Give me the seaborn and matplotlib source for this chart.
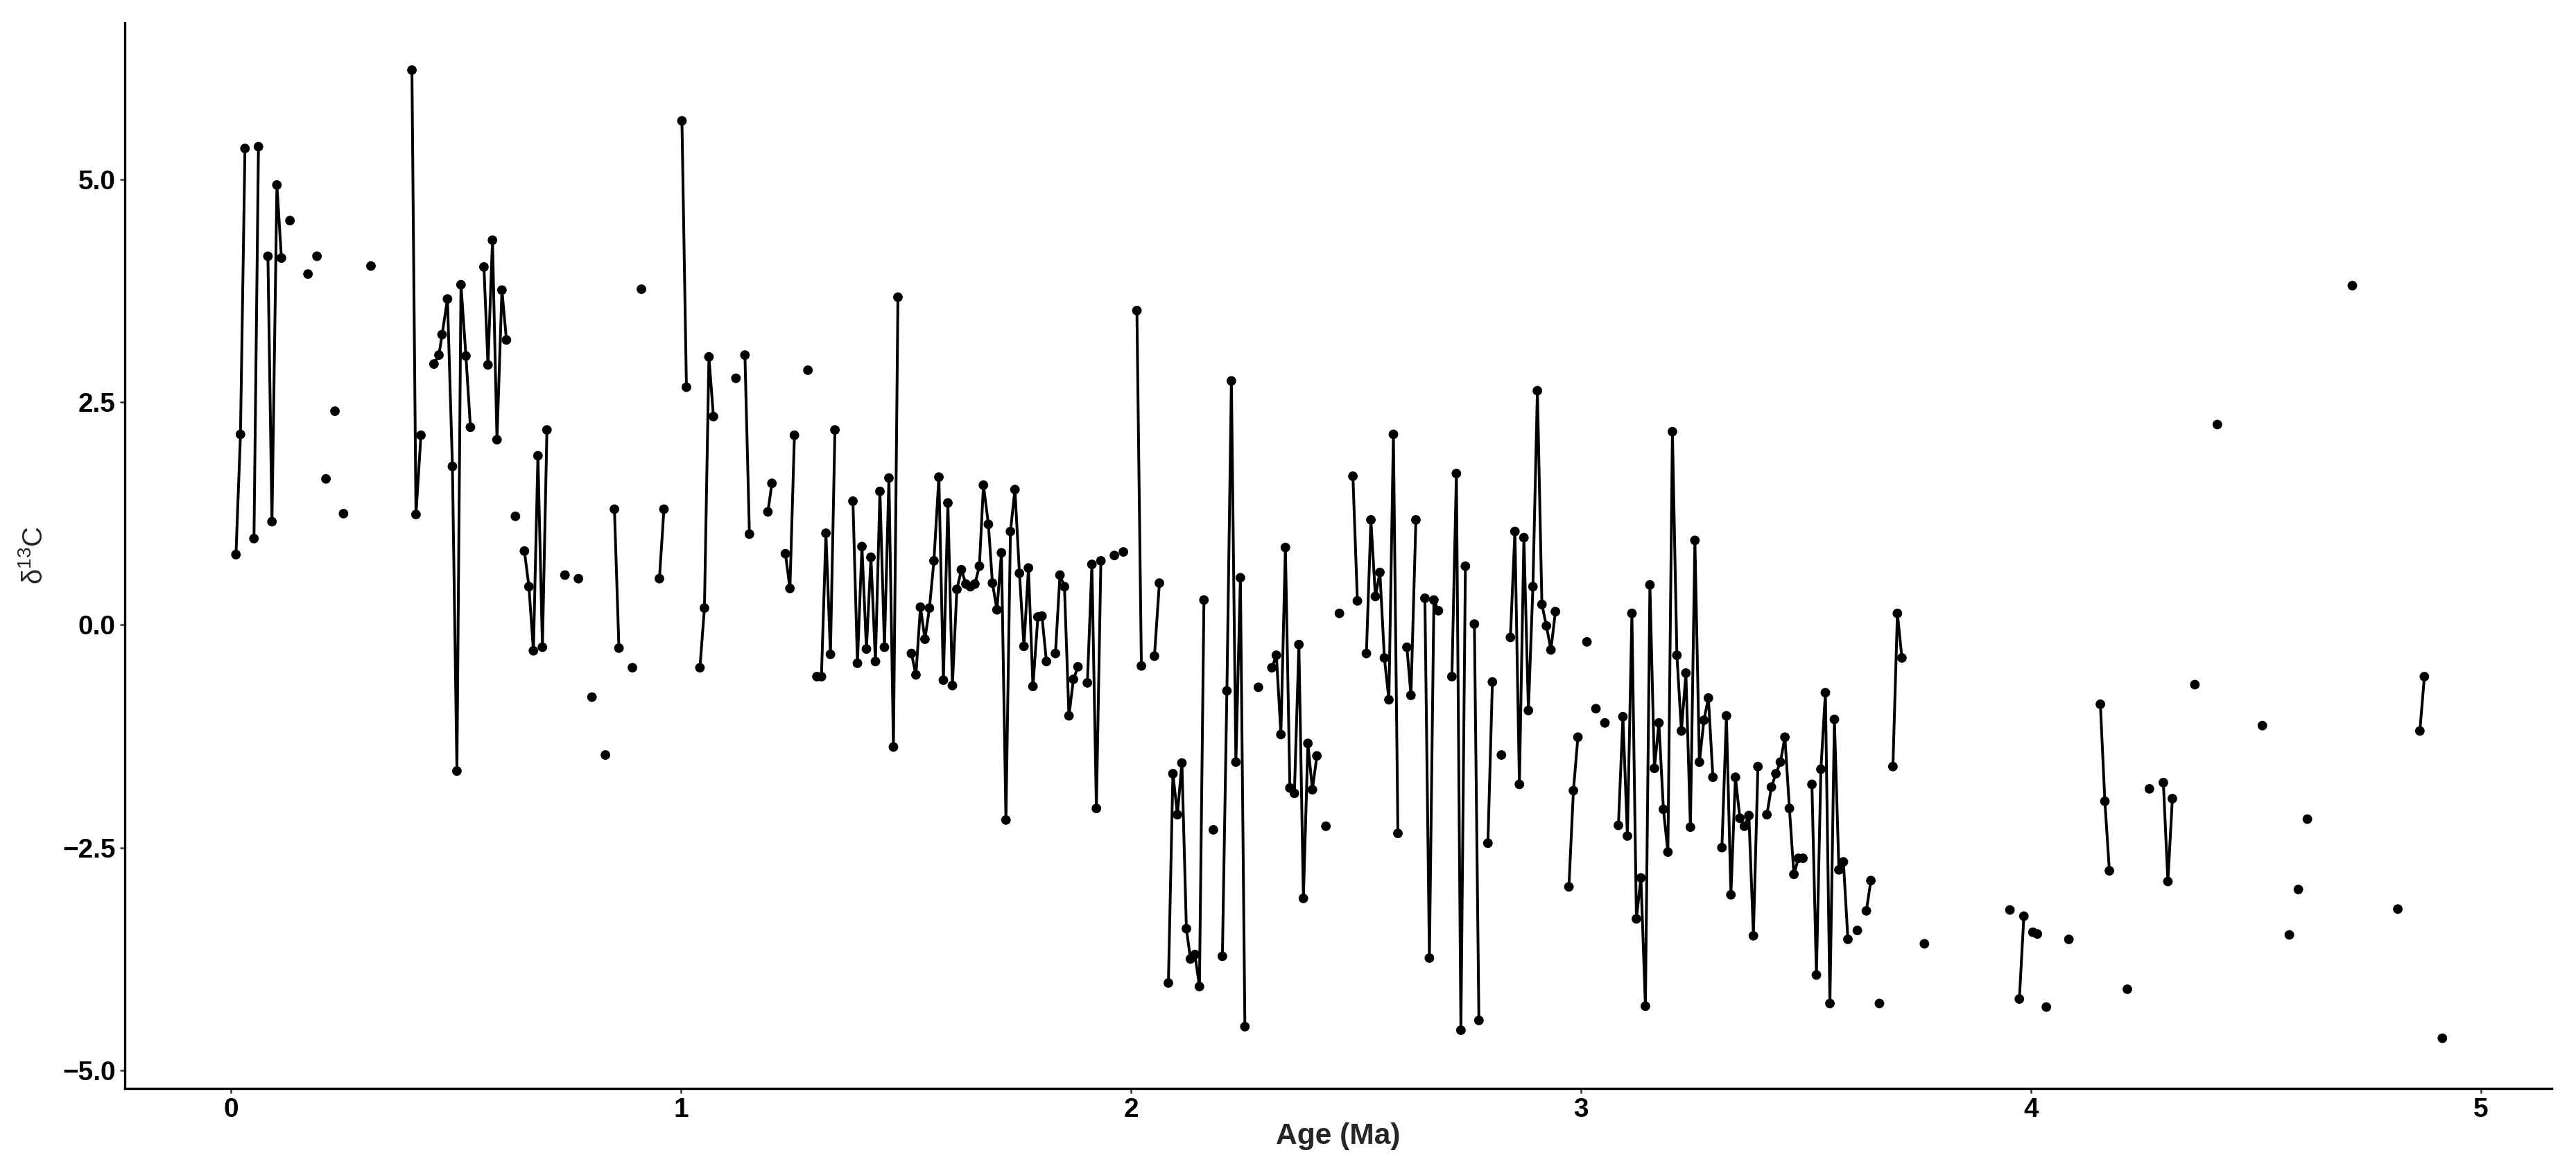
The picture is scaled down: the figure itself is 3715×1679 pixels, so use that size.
import numpy as np
import pandas as pd
import matplotlib
matplotlib.use("Agg")
import matplotlib.pyplot as plt
import seaborn as sns

# age (Ma) and d13C; run_len = points per connected run
age = [
    0.011, 0.021, 0.031, 0.051, 0.061, 0.082, 0.091, 0.102, 0.112, 0.131,
    0.171, 0.191, 0.211, 0.231, 0.250, 0.311, 0.402, 0.411, 0.422,
    0.451, 0.462, 0.469, 0.481, 0.492, 0.502, 0.511, 0.522, 0.532,
    0.562, 0.571, 0.581, 0.591, 0.602, 0.612, 0.632,
    0.652, 0.662, 0.672, 0.682, 0.692, 0.702,
    0.742, 0.772, 0.802, 0.832, 0.852, 0.862, 0.892, 0.912, 0.952, 0.962,
    1.002, 1.012, 1.042, 1.052, 1.062, 1.072, 1.122, 1.142, 1.152,
    1.193, 1.202, 1.232, 1.242, 1.252, 1.282,
    1.302, 1.312, 1.322, 1.332, 1.342,
    1.382, 1.392, 1.402, 1.412, 1.422, 1.432, 1.442, 1.452, 1.462, 1.472, 1.482,
    1.512, 1.522, 1.532, 1.542, 1.552, 1.562, 1.573, 1.583, 1.593, 1.603,
    1.613, 1.623, 1.633, 1.643, 1.653, 1.663, 1.672, 1.683, 1.692, 1.702,
    1.712, 1.722, 1.732, 1.742, 1.752, 1.762, 1.772, 1.782, 1.793, 1.802, 1.812,
    1.832, 1.842, 1.852, 1.862, 1.872, 1.882,
    1.903, 1.913, 1.923, 1.933, 1.963, 1.983,
    2.013, 2.023, 2.052, 2.063,
    2.083, 2.093, 2.103, 2.113, 2.123, 2.132, 2.142, 2.152, 2.162, 2.183,
    2.203, 2.213, 2.223, 2.233, 2.243, 2.253, 2.283,
    2.313, 2.323, 2.333, 2.343, 2.353, 2.363, 2.373, 2.383, 2.393, 2.403, 2.413,
    2.433, 2.463, 2.493, 2.503,
    2.523, 2.533, 2.543, 2.553, 2.563, 2.573, 2.583, 2.593,
    2.613, 2.622, 2.633, 2.653, 2.663, 2.673, 2.683,
    2.713, 2.723, 2.733, 2.743, 2.763, 2.773, 2.793, 2.803, 2.823,
    2.843, 2.853, 2.863, 2.873, 2.883, 2.893, 2.903, 2.913, 2.923, 2.933, 2.943,
    2.973, 2.983, 2.993, 3.013, 3.033, 3.053,
    3.083, 3.093, 3.103, 3.113, 3.123, 3.133, 3.143, 3.153, 3.163, 3.173,
    3.183, 3.193, 3.203, 3.213, 3.223, 3.233, 3.243, 3.253, 3.263, 3.273,
    3.283, 3.293,
    3.313, 3.323, 3.333, 3.343, 3.353, 3.363, 3.373, 3.383, 3.393,
    3.413, 3.423, 3.433, 3.443, 3.453, 3.463, 3.473, 3.483, 3.493,
    3.513, 3.523, 3.533, 3.543, 3.553, 3.563, 3.573, 3.583, 3.593,
    3.614, 3.634, 3.644, 3.663, 3.693, 3.703, 3.713, 3.763,
    3.953, 3.974, 3.984, 4.004, 4.014, 4.034, 4.084,
    4.154, 4.164, 4.174, 4.214, 4.263, 4.294, 4.304, 4.314,
    4.364, 4.414, 4.514, 4.574, 4.594, 4.614, 4.714, 4.815,
    4.864, 4.874, 4.914,
]

d13c = [
    0.79, 2.14, 5.35, 0.97, 5.37, 4.14, 1.16, 4.94, 4.12, 4.54,
    3.94, 4.14, 1.64, 2.40, 1.25, 4.03, 6.23, 1.24, 2.13,
    2.93, 3.03, 3.26, 3.66, 1.78, -1.64, 3.82, 3.02, 2.22,
    4.02, 2.92, 4.32, 2.08, 3.76, 3.20, 1.22,
    0.83, 0.43, -0.29, 1.90, -0.25, 2.19,
    0.56, 0.52, -0.81, -1.46, 1.30, -0.26, -0.48, 3.77, 0.52, 1.30,
    5.66, 2.67, -0.48, 0.19, 3.01, 2.34, 2.77, 3.03, 1.02,
    1.27, 1.59, 0.80, 0.41, 2.13, 2.86,
    -0.58, -0.58, 1.03, -0.33, 2.19,
    1.39, -0.43, 0.88, -0.27, 0.76, -0.41, 1.50, -0.25, 1.65, -1.37, 3.68,
    -0.32, -0.56, 0.20, -0.16, 0.19, 0.72, 1.66, -0.62, 1.37, -0.68,
    0.40, 0.62, 0.46, 0.43, 0.46, 0.66, 1.57, 1.13, 0.47, 0.17,
    0.81, -2.19, 1.05, 1.52, 0.58, -0.24, 0.64, -0.69, 0.09, 0.10, -0.41,
    -0.32, 0.56, 0.43, -1.02, -0.61, -0.47,
    -0.65, 0.68, -2.06, 0.72, 0.78, 0.82,
    3.53, -0.46, -0.35, 0.47,
    -4.02, -1.67, -2.13, -1.55, -3.41, -3.75, -3.70, -4.06, 0.28, -2.30,
    -3.72, -0.74, 2.74, -1.54, 0.53, -4.51, -0.70,
    -0.48, -0.34, -1.23, 0.87, -1.83, -1.89, -0.22, -3.07, -1.33, -1.85, -1.47,
    -2.26, 0.13, 1.67, 0.27,
    -0.32, 1.18, 0.32, 0.59, -0.37, -0.84, 2.14, -2.34,
    -0.25, -0.79, 1.18, 0.30, -3.74, 0.28, 0.16,
    -0.58, 1.70, -4.55, 0.66, 0.01, -4.44, -2.45, -0.64, -1.46,
    -0.14, 1.05, -1.79, 0.98, -0.96, 0.43, 2.63, 0.23, -0.01, -0.28, 0.15,
    -2.94, -1.86, -1.26, -0.19, -0.94, -1.10,
    -2.25, -1.03, -2.37, 0.13, -3.30, -2.84, -4.28, 0.45, -1.61, -1.10,
    -2.07, -2.55, 2.17, -0.34, -1.19, -0.54, -2.27, 0.95, -1.54, -1.07,
    -0.82, -1.71,
    -2.50, -1.02, -3.03, -1.71, -2.17, -2.26, -2.14, -3.49, -1.59,
    -2.13, -1.82, -1.67, -1.54, -1.26, -2.06, -2.80, -2.62, -2.62,
    -1.79, -3.93, -1.62, -0.76, -4.25, -1.06, -2.75, -2.66, -3.53,
    -3.43, -3.21, -2.87, -4.25, -1.59, 0.13, -0.37, -3.58,
    -3.20, -4.20, -3.27, -3.45, -3.47, -4.29, -3.53,
    -0.89, -1.98, -2.76, -4.09, -1.84, -1.77, -2.88, -1.95,
    -0.67, 2.25, -1.13, -3.48, -2.97, -2.18, 3.81, -3.19,
    -1.19, -0.58, -4.64,
]

run_len = [
    3, 2, 4, 1, 1, 1, 1, 1, 1, 1, 3, 9, 6, 1, 6, 1, 1, 1, 1, 2,
    1, 1, 2, 2, 4, 1, 2, 2, 3, 1, 5, 11, 31, 6, 4, 1, 1, 2, 2, 9,
    1, 6, 1, 11, 1, 1, 2, 8, 3, 4, 4, 2, 2, 1, 11, 3, 1, 1, 1, 22,
    9, 9, 9, 1, 2, 1, 3, 1, 1, 2, 2, 1, 1, 3, 1, 1, 3, 1, 1, 1,
    1, 1, 1, 1, 1, 2, 1,
]

x_ticks = [0, 1, 2, 3, 4, 5]
y_ticks = [-5.0, -2.5, 0.0, 2.5, 5.0]
y_tick_labels = ["\u22125.0", "\u22122.5", "0.0", "2.5", "5.0"]

df = pd.DataFrame({"age": age, "d13c": d13c})
df["run"] = np.repeat(np.arange(len(run_len)), run_len)

sns.set_theme(style="ticks")
plt.rcParams["font.family"] = ["Liberation Sans", "DejaVu Sans"]
plt.rcParams["mathtext.fontset"] = "custom"
plt.rcParams["mathtext.rm"] = "Liberation Sans"

W, H, DPI = 3715, 1679, 300
fig = plt.figure(figsize=(W / DPI, H / DPI), dpi=DPI)
ax = fig.add_axes([180 / W, 1 - 1569.5 / H, 3500 / W, 1536.5 / H])

sns.lineplot(data=df, x="age", y="d13c", units="run", estimator=None,
             sort=False, color="black", linewidth=0.95, ax=ax, legend=False)
sns.scatterplot(data=df, x="age", y="d13c", color="black", s=11,
                edgecolor="none", ax=ax, legend=False, zorder=3)

ax.set_xlim(-0.236, 5.157)
ax.set_ylim(-5.20, 6.76)
ax.set_xticks(x_ticks)
ax.set_xticklabels([str(t) for t in x_ticks])
ax.set_yticks(y_ticks)
ax.set_yticklabels(y_tick_labels)

for lab in ax.get_xticklabels() + ax.get_yticklabels():
    lab.set_fontweight("bold")
    lab.set_fontsize(9.3)
    lab.set_color("black")

ax.tick_params(axis="both", length=1.7, width=0.6, color="#333333", pad=1.5)

for side in ["top", "right"]:
    ax.spines[side].set_visible(False)
for side in ["left", "bottom"]:
    ax.spines[side].set_color("black")
    ax.spines[side].set_linewidth(0.8)

ax.set_xlabel("Age (Ma)", fontsize=10.2, fontweight="bold", va="center")
ax.xaxis.set_label_coords(0.5, -0.0452)
ax.set_ylabel(r"δ$^{13}$C", fontsize=9.6, va="center")
ax.yaxis.set_label_coords(-0.0374, 0.5)

fig.savefig("out.png", dpi=DPI, facecolor="white")
